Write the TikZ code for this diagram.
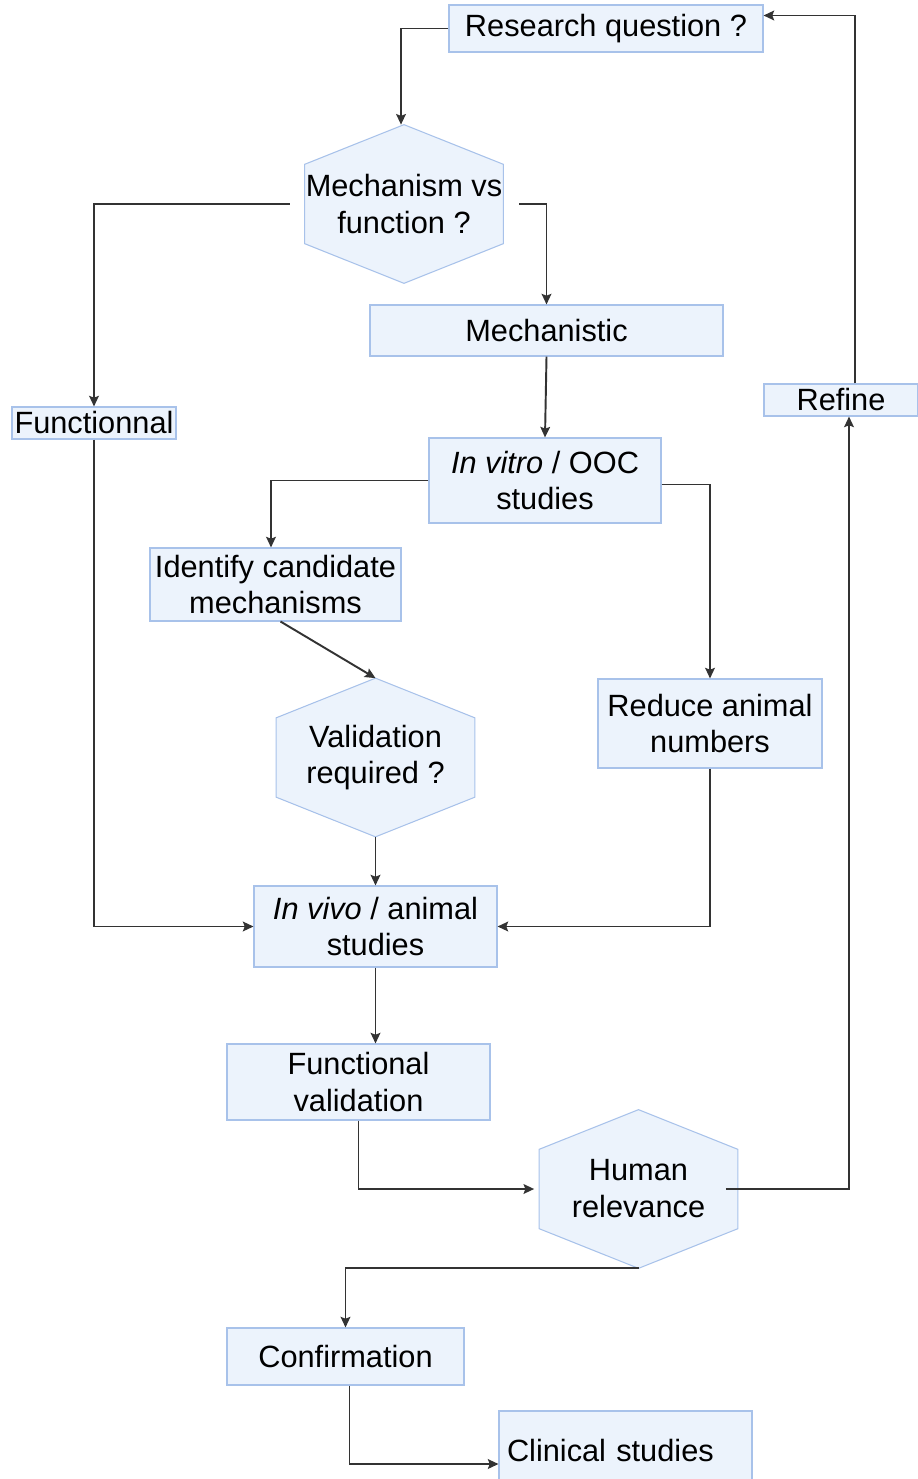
\documentclass[tikz,border=0pt]{standalone}
\usepackage{fontspec}
\setmainfont{Liberation Sans}
\usepackage{xcolor}
\usetikzlibrary{arrows.meta,calc,backgrounds}
\definecolor{boxfill}{HTML}{ECF3FC}
\definecolor{boxline}{HTML}{A8C2EA}
\definecolor{wire}{HTML}{333333}
\newlength\px
\setlength\px{0.02cm}

\begin{document}
\begin{tikzpicture}[
  x=0.02cm, y=-0.02cm,
  stepbox/.style={rectangle, draw=boxline, fill=boxfill, line width=0.6pt, inner sep=0pt, align=center, font=\fontsize{17.5}{21}\selectfont},
  hexa/.style={rectangle, inner sep=0pt, align=center, minimum width=198\px, minimum height=158\px, font=\fontsize{17.5}{21}\selectfont},
  hexline/.style={draw=boxline, fill=boxfill, line width=0.6pt},
  flow/.style={draw=wire, line width=1.1pt, -{Stealth[length=6pt,width=5.5pt,inset=1pt]}}
]
\useasboundingbox (0,0) rectangle (918,1479);

% boxes
\node[stepbox, minimum width=314\px, minimum height=47\px] (rq) at (606,28.5) {Research question ?};
\node[hexa] (mech) at (404,204) {Mechanism vs\\function ?};
\node[stepbox, minimum width=353\px, minimum height=51\px] (mechst) at (546.5,330.5) {Mechanistic};
\node[stepbox, minimum width=164\px, minimum height=32\px] (func) at (94,423) {Functionnal};
\node[stepbox, minimum width=154\px, minimum height=32\px] (refine) at (841,400) {Refine};
\node[stepbox, minimum width=232\px, minimum height=85\px] (vitro) at (545,480.5) {\textit{In vitro} / OOC\\studies};
\node[stepbox, minimum width=251\px, minimum height=73\px] (ident) at (275.5,584.5) {Identify candidate\\mechanisms};
\node[hexa] (valid) at (375.5,757.5) {Validation\\required ?};
\node[stepbox, minimum width=224\px, minimum height=89\px] (reduce) at (710,723.5) {Reduce animal\\numbers};
\node[stepbox, minimum width=243\px, minimum height=81\px] (vivo) at (375.5,926.5) {\textit{In vivo} / animal\\studies};
\node[stepbox, minimum width=263\px, minimum height=76\px] (fval) at (358.5,1082) {Functional\\validation};
\node[hexa] (human) at (638.5,1189) {Human\\relevance};
\node[stepbox, minimum width=237\px, minimum height=57\px] (conf) at (345.5,1356.5) {Confirmation};
\node[stepbox, minimum width=253\px, minimum height=78\px, text width=237\px, align=left] (clin) at (625.5,1450) {Clinical studies};

% hexagons behind the decision nodes
\begin{scope}[on background layer]
\foreach \h in {mech,valid,human} {
  \path[hexline] (\h.north) -- ($(\h.north east)!.25!(\h.south east)$) -- ($(\h.north east)!.75!(\h.south east)$)
    -- (\h.south) -- ($(\h.north west)!.75!(\h.south west)$) -- ($(\h.north west)!.25!(\h.south west)$) -- cycle;
}
\end{scope}

% arrows
\draw[flow] (rq.west) -| ([xshift=-3\px]mech.north);
\draw[flow, shorten <=15\px] (mech.west) -| (func.north);
\draw[flow, shorten <=16\px] (mech.east) -| (mechst.north);
\draw[flow] (mechst.south) -- (vitro.north);
\draw[flow] (vitro.west) -| ([xshift=-4.5\px]ident.north);
\draw[flow] ([yshift=-4\px]vitro.east) -| (reduce.north);
\draw[flow] ([xshift=5\px]ident.south) -- (valid.north);
\draw[flow] (valid.south) -- (vivo.north);
\draw[flow] (func.south) |- (vivo.west);
\draw[flow] (reduce.south) |- (vivo.east);
\draw[flow] (vivo.south) -- (vivo.south |- fval.north);
\draw[flow] (fval.south) |- ([xshift=-5\px]human.west);
\draw[flow] ([xshift=-12\px]human.east) -| ([xshift=8\px]refine.south);
\draw[flow] ([xshift=14\px]refine.north) |- ([yshift=13\px]rq.east);
\draw[flow] (human.south) -| (conf.north);
\draw[flow] ([xshift=4\px]conf.south) |- ([yshift=-14\px]clin.west);
\end{tikzpicture}
\end{document}
